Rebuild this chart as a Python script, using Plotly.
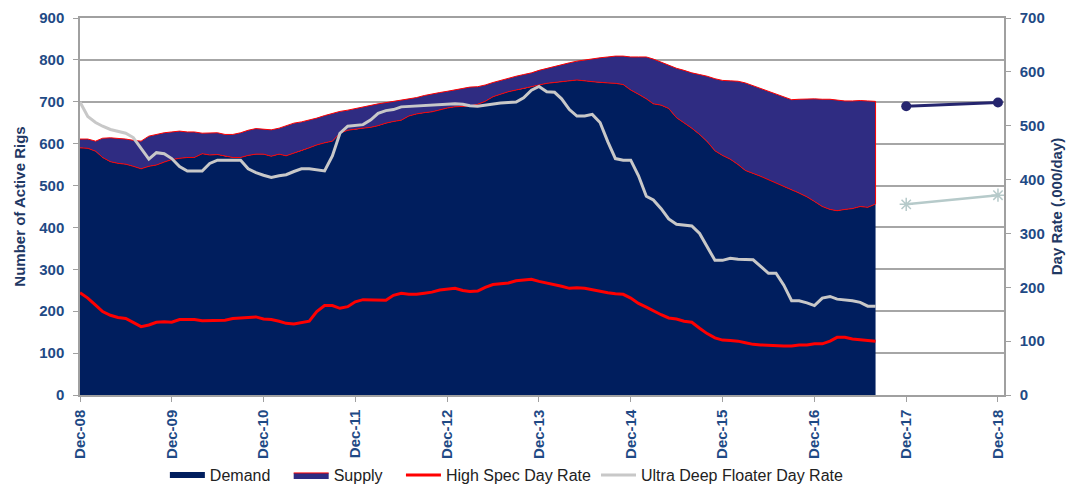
import pandas as pd
import plotly.graph_objects as go

# ---------------- data (monthly, Dec-08 .. Aug-17) ----------------
start_month = "2008-12-01"

# Number of active rigs (left axis)
supply = [611, 611, 606, 613, 614, 613, 611, 608, 606, 618,
          622, 626, 628, 630, 628, 628, 625, 626, 626, 622,
          622, 626, 632, 636, 634, 633, 637, 643, 649, 652,
          656, 661, 667, 672, 677, 680, 684, 688, 692, 695,
          698, 701, 704, 706, 710, 715, 719, 722, 725, 729,
          733, 735, 736, 740, 746, 751, 757, 761, 765, 769,
          775, 780, 784, 789, 793, 797, 800, 803, 805, 807,
          809, 809, 807, 807, 807, 802, 794, 788, 780, 775,
          769, 765, 761, 755, 751, 750, 749, 745, 738, 733,
          726, 718, 711, 705, 706, 707, 707, 706, 706, 704,
          702, 702, 703, 702, 701]

demand = [590, 589, 582, 567, 557, 553, 551, 546, 540, 546,
          549, 556, 562, 565, 567, 567, 576, 573, 574, 570,
          567, 567, 572, 575, 575, 570, 575, 571, 578, 583,
          590, 597, 602, 606, 625, 632, 634, 637, 639, 643,
          649, 653, 656, 666, 671, 674, 676, 681, 685, 688,
          689, 690, 694, 701, 712, 718, 724, 728, 731, 736,
          740, 744, 746, 748, 750, 752, 750, 748, 746, 745,
          744, 741, 728, 718, 707, 695, 692, 684, 662, 650,
          637, 622, 605, 583, 572, 563, 550, 536, 529, 522,
          515, 507, 498, 490, 482, 473, 462, 450, 443, 440,
          443, 445, 450, 448, 456]

# Day rates, $000/day (right axis)
high_spec_rate = [190, 180, 167, 155, 148, 144, 142, 134, 127, 130,
                  135, 136, 135, 140, 140, 140, 138, 138, 138, 139,
                  142, 143, 145, 145, 141, 140, 137, 133, 132, 134,
                  137, 155, 166, 166, 161, 164, 173, 177, 177, 177,
                  176, 185, 189, 187, 187, 189, 191, 195, 197, 198,
                  194, 192, 193, 200, 205, 206, 208, 212, 214, 215,
                  211, 208, 206, 202, 198, 199, 198, 195, 192, 190,
                  188, 187, 180, 170, 163, 156, 149, 143, 141, 137,
                  135, 124, 114, 106, 102, 101, 100, 97, 94, 93,
                  92, 92, 91, 91, 93, 93, 95, 95, 100, 107,
                  107, 104, 103, 102, 100]

udf_rate = [544, 517, 506, 499, 493, 489, 486, 478, 457, 438,
            450, 448, 439, 424, 416, 416, 416, 430, 436, 436,
            436, 436, 420, 413, 408, 404, 407, 409, 415, 420,
            420, 418, 416, 444, 486, 499, 501, 502, 511, 523,
            528, 530, 535, 536, 537, 538, 539, 540, 541, 541,
            540, 537, 536, 538, 541, 542, 543, 544, 552, 566,
            573, 563, 562, 550, 530, 518, 518, 521, 506, 470,
            439, 436, 436, 407, 369, 362, 346, 327, 317, 316,
            314, 300, 275, 250, 250, 254, 252, 251, 251, 239,
            226, 226, 204, 175, 175, 171, 166, 180, 183, 178,
            177, 175, 172, 165, 165]

# Forecast points (right axis)
forecast_dates = ["2017-12-01", "2018-12-01"]
forecast_navy = [536, 543]
forecast_grey = [354, 371]

# ---------------- figure ----------------
def months(n):
    return pd.date_range(start_month, periods=n, freq="MS")

d_dem = months(len(demand))
d_sup = months(len(supply))
n_poly = min(len(supply), len(demand))
poly_x = list(d_sup[:n_poly]) + list(d_dem[:n_poly])[::-1]
poly_y = supply[:n_poly] + demand[:n_poly][::-1]

NAVY = "#001E5E"
PURPLE = "#2F2C82"
RED = "#FF0000"
GREY = "#C8C8C8"
TICK = "#1F4A85"
TITLE = "#1F3864"
AXIS = "#A0A0A0"
FAM = "Liberation Sans, Arial, sans-serif"
PAD = "\u00a0\u00a0\u00a0"

fig = go.Figure()
fig.add_trace(go.Scatter(x=d_dem, y=demand, name="Demand" + PAD, mode="none",
                         fill="tozeroy", fillcolor=NAVY))
fig.add_trace(go.Scatter(x=poly_x, y=poly_y, name="Supply" + PAD, mode="lines",
                         fill="toself", fillcolor=PURPLE,
                         line=dict(color=RED, width=1)))
fig.add_trace(go.Scatter(x=months(len(high_spec_rate)), y=high_spec_rate,
                         name="High Spec Day Rate", mode="lines", yaxis="y2",
                         line=dict(color=RED, width=3)))
fig.add_trace(go.Scatter(x=months(len(udf_rate)), y=udf_rate,
                         name="Ultra Deep Floater Day Rate", mode="lines",
                         yaxis="y2", line=dict(color=GREY, width=3)))
fig.add_trace(go.Scatter(x=forecast_dates, y=forecast_navy, mode="lines+markers",
                         yaxis="y2", showlegend=False,
                         line=dict(color="#25256E", width=3),
                         marker=dict(symbol="circle", size=10, color="#25256E")))
fig.add_trace(go.Scatter(x=forecast_dates, y=forecast_grey, mode="lines+markers",
                         yaxis="y2", showlegend=False,
                         line=dict(color="#B6CACA", width=2.5),
                         marker=dict(symbol="asterisk-open", size=11,
                                     line=dict(color="#B6CACA", width=1.5))))

tickfont = dict(family=FAM, size=15, color=TICK, weight="bold")
titlefont = dict(family=FAM, size=15, color=TITLE, weight="bold")

fig.update_layout(
    width=1074, height=481,
    margin=dict(l=72, r=78, t=10, b=94),
    paper_bgcolor="white", plot_bgcolor="white",
    font=dict(family=FAM),
    xaxis=dict(type="date", range=["2008-12-01", "2018-12-25"],
               tick0="2008-12-01", dtick="M12", tickformat="%b-%y",
               tickangle=-90, tickfont=tickfont, showgrid=False,
               showline=True, mirror=True, linecolor=AXIS, linewidth=1.5,
               ticks="outside", ticklen=5, tickcolor=AXIS,
               ticklabelstandoff=2, automargin=False,
               ticklabeloverflow="allow"),
    yaxis=dict(range=[0, 900], dtick=100, tickfont=tickfont,
               showgrid=True, gridcolor="#A6A6A6", gridwidth=1.5,
               zeroline=False, showline=True, linecolor=AXIS, linewidth=1.5,
               ticks="outside", ticklen=5, tickcolor=AXIS,
               ticklabelstandoff=6, automargin=False,
               ticklabeloverflow="allow",
               title=dict(text="Number of Active Rigs", font=titlefont,
                          standoff=10)),
    yaxis2=dict(range=[0, 700], dtick=100, tickfont=tickfont,
                overlaying="y", side="right", showgrid=False, zeroline=False,
                showline=True, linecolor=AXIS, linewidth=1.5,
                ticks="outside", ticklen=5, tickcolor=AXIS,
                ticklabelstandoff=6, automargin=False,
                ticklabeloverflow="allow",
                title=dict(text="Day Rate (,000/day)", font=titlefont,
                           standoff=8)),
    legend=dict(orientation="h", xref="container", x=0.4645, xanchor="center",
                yref="container", y=0.029, yanchor="middle",
                font=dict(family=FAM, size=16, color="#222222"),
                itemwidth=35, tracegroupgap=0),
    showlegend=True,
)

fig.write_html("out.html")
